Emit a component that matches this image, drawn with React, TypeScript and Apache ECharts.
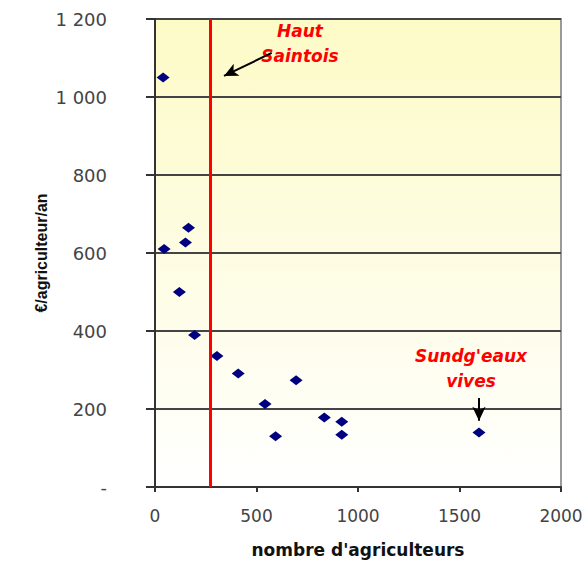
import React, { useEffect, useRef } from "react";
import * as echarts from "echarts";

const farmers = [40, 45, 165, 150, 120, 195, 305, 410, 542, 594, 695, 834, 920, 920, 1596];
const costPerFarmer = [1050, 610, 665, 627, 500, 390, 336, 291, 213, 130, 274, 178, 167, 134, 140];
const thresholdX = 270;
const yTickLabels: Record<number, string> = { 0: "-", 200: "200", 400: "400", 600: "600", 800: "800", 1000: "1 000", 1200: "1 200" };
const xTickLabels: Record<number, string> = { 0: "0", 500: "500", 1000: "1000", 1500: "1500", 2000: "2000" };

export default function App() {
  const ref = useRef<HTMLDivElement>(null);
  useEffect(() => {
    document.body.style.margin = "0";
    const chart = echarts.init(ref.current!, null, { renderer: "svg" });
    const font = "DejaVu Sans";
    chart.setOption({
      animation: false,
      backgroundColor: "#ffffff",
      grid: {
        left: 155,
        right: 27,
        top: 19,
        bottom: 78,
        outerBoundsMode: "none",
        containLabel: false,
        show: true,
        borderColor: "#9a9a9a",
        borderWidth: 2,
        backgroundColor: new echarts.graphic.LinearGradient(0, 0, 0, 1, [
          { offset: 0, color: "#fdfbc6" },
          { offset: 0.6, color: "#fefde8" },
          { offset: 1, color: "#ffffff" },
        ]),
      },
      xAxis: {
        type: "value",
        min: 0,
        max: 2000,
        interval: 500,
        name: "nombre d'agriculteurs",
        nameLocation: "middle",
        nameGap: 54,
        nameMoveOverlap: false,
        nameTextStyle: { fontFamily: font, fontWeight: "bold", fontSize: 17, color: "#111" },
        axisLine: { show: true, lineStyle: { color: "#333", width: 2 } },
        axisTick: { show: true, length: 5, lineStyle: { color: "#333", width: 2 } },
        axisLabel: {
          margin: 20,
          fontFamily: font,
          fontSize: 17,
          color: "#444",
          formatter: (v: number) => xTickLabels[v] ?? String(v),
        },
        splitLine: { show: false },
      },
      yAxis: {
        type: "value",
        min: 0,
        max: 1200,
        interval: 200,
        name: "€/agriculteur/an",
        nameLocation: "middle",
        nameGap: 106,
        nameMoveOverlap: false,
        nameTextStyle: { fontFamily: "Liberation Sans", fontWeight: "bold", fontSize: 16, color: "#111" },
        axisLine: { show: true, lineStyle: { color: "#333", width: 2 } },
        axisTick: { show: true, length: 9, lineStyle: { color: "#333", width: 2 } },
        axisLabel: {
          margin: 48,
          fontFamily: font,
          fontSize: 18,
          color: "#444",
          formatter: (v: number) => yTickLabels[v] ?? String(v),
        },
        splitLine: { show: true, lineStyle: { color: "#444", width: 2 } },
      },
      series: [
        {
          type: "scatter",
          symbol: "diamond",
          symbolSize: [13, 10],
          itemStyle: { color: "#000080", opacity: 1 },
          data: farmers.map((x, i) => [x, costPerFarmer[i]]),
          markLine: {
            silent: true,
            symbol: ["none", "none"],
            label: { show: false },
            lineStyle: { color: "#ff0000", width: 3, type: "solid", opacity: 1 },
            data: [{ xAxis: thresholdX }],
          },
          z: 3,
        },
        {
          type: "scatter",
          data: [],
          markLine: {
            silent: true,
            symbol: ["none", "arrow"],
            symbolSize: [10, 14],
            label: { show: false },
            lineStyle: { color: "#000", width: 2, type: "solid", opacity: 1 },
            data: [
              [{ coord: [575, 1113] }, { coord: [340, 1054] }],
              [{ coord: [1596, 228] }, { coord: [1596, 170] }],
            ],
          },
        },
      ],
      graphic: [
        {
          type: "text",
          x: 300,
          y: 43,
          style: {
            text: "Haut\nSaintois",
            fill: "#ff0000",
            font: "italic bold 17px DejaVu Sans",
            align: "center",
            verticalAlign: "middle",
            lineHeight: 25,
          },
        },
        {
          type: "text",
          x: 471,
          y: 368,
          style: {
            text: "Sundg'eaux\nvives",
            fill: "#ff0000",
            font: "italic bold 17px DejaVu Sans",
            align: "center",
            verticalAlign: "middle",
            lineHeight: 25,
          },
        },
      ],
    });
    return () => chart.dispose();
  }, []);
  return <div ref={ref} style={{ width: 588, height: 565 }} />;
}
